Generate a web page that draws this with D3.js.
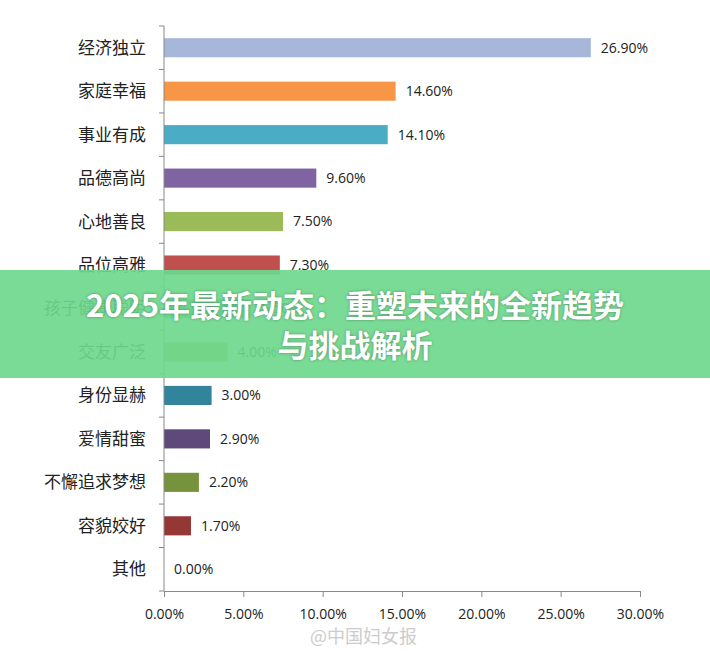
<!DOCTYPE html>
<html lang="zh">
<head>
<meta charset="UTF-8">
<script src="https://d3js.org/d3.v7.min.js"></script>
<style>
  body { margin: 0; background: #fff; font-family: "Noto Sans CJK SC", "Open Sans", sans-serif; }
  #chart { position: relative; width: 710px; height: 655px; }
  .banner { position: absolute; left: 0; top: 270px; width: 710px; height: 108px; background: rgba(110, 216, 140, 0.92);
    color: #fff; font-weight: bold; font-size: 31px; text-align: center; line-height: 40px; padding-top: 14px; box-sizing: border-box;
    text-shadow: 0 0 3px rgba(0,0,0,0.35); }
</style>
</head>
<body>
<div id="chart"></div>
<script>
const categories = ["经济独立", "家庭幸福", "事业有成", "品德高尚", "心地善良", "品位高雅", "孩子健康聪明",
  "交友广泛", "身份显赫", "爱情甜蜜", "不懈追求梦想", "容貌姣好", "其他"];
const values = [26.9, 14.6, 14.1, 9.6, 7.5, 7.3, 5.5, 4.0, 3.0, 2.9, 2.2, 1.7, 0.0];
const colors = ["#a6b7d9", "#f79646", "#4bacc6", "#8064a2", "#9bbb59", "#c0504d", "#4bacc6",
  "#9bbb59", "#31849b", "#5f497a", "#76923c", "#953735", "#1f497d"];
const xTicks = [0, 5, 10, 15, 20, 25, 30];

const svg = d3.select("#chart").append("svg").attr("width", 710).attr("height", 655);

const x = d3.scaleLinear().domain([0, 30]).range([164, 640]);
const y = d3.scaleBand().domain(categories).range([26, 591]).paddingInner(0.56).paddingOuter(0.28);

// bars
svg.selectAll("rect.bar").data(categories).join("rect")
  .attr("x", x(0))
  .attr("y", d => y(d))
  .attr("width", (d, i) => x(values[i]) - x(0))
  .attr("height", y.bandwidth())
  .attr("fill", (d, i) => colors[i]);

svg.selectAll("text.val").data(categories).join("text")
  .attr("x", (d, i) => x(values[i]) + 10)
  .attr("y", d => y(d) + y.bandwidth() / 2)
  .attr("dy", "0.35em")
  .attr("font-size", 14).attr("fill", "#222")
  .attr("font-family", "Open Sans, sans-serif")
  .text((d, i) => values[i].toFixed(2) + "%");

// y axis
const yAxis = svg.append("g").attr("transform", `translate(${x(0)},0)`);
yAxis.append("line").attr("y1", 26).attr("y2", 591).attr("stroke", "#888");
d3.range(categories.length + 1).forEach(i => {
  const yy = 26 + i * (565 / categories.length);
  yAxis.append("line").attr("x1", -5).attr("x2", 0).attr("y1", yy).attr("y2", yy).attr("stroke", "#888");
});
yAxis.selectAll("text").data(categories).join("text")
  .attr("x", -18).attr("y", d => y(d) + y.bandwidth() / 2).attr("dy", "0.35em")
  .attr("text-anchor", "end").attr("font-size", 17).attr("fill", "#222")
  .text(d => d);

// x axis
const xAxis = svg.append("g").attr("transform", "translate(0,591)")
  .call(d3.axisBottom(x).tickValues(xTicks).tickSize(6).tickPadding(12).tickFormat(d => d.toFixed(2) + "%"));
xAxis.select(".domain").attr("stroke", "#888");
xAxis.selectAll(".tick line").attr("stroke", "#888");
xAxis.selectAll("text").attr("font-size", 14).attr("fill", "#222").attr("font-family", "Open Sans, sans-serif");

// watermark
svg.append("text").attr("x", 310).attr("y", 643).attr("font-size", 18).attr("fill", "#ccc").text("@中国妇女报");
</script>
<div class="banner">2025年最新动态：重塑未来的全新趋势<br>与挑战解析</div>
<script>document.getElementById("chart").appendChild(document.querySelector(".banner"));</script>
</body>
</html>
